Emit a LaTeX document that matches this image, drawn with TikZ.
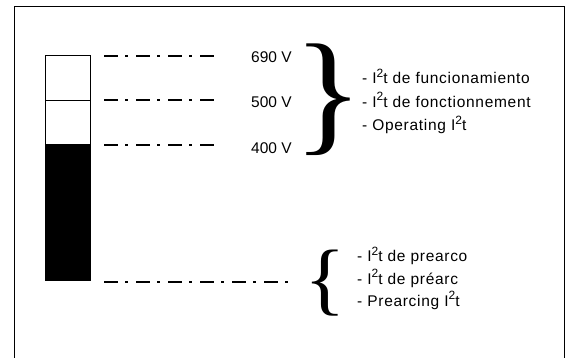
\documentclass[tikz,border=0pt]{standalone}
\usepackage{fontspec}
\setmainfont{Liberation Sans}[LetterSpace=4.5]
\newfontfamily\voltfont{Liberation Sans}
\newfontfamily\bracefont{Liberation Serif}
\newcommand{\supii}{\raisebox{0.42em}{\fontsize{12}{12}\selectfont 2}}
\begin{document}
\begin{tikzpicture}[x=1pt,y=-1pt,
  ddline/.style={line width=1.8pt,dash pattern=on 14pt off 7pt on 3pt off 8pt},
  lbl/.style={font=\voltfont\fontsize{15.5}{17}\selectfont,inner sep=0pt,anchor=base west},
  txt/.style={font=\fontsize{15.5}{17}\selectfont,inner sep=0pt,anchor=base west}]
\useasboundingbox (0,0) rectangle (568,358);
% frame
\draw[line width=0.8pt] (14,360) -- (14,6.5) -- (564,6.5) -- (564,360);
% bar
\node[draw,line width=0.8pt,minimum width=45pt,minimum height=45pt,inner sep=0pt] (b1) at (67.5,77.5) {};
\node[draw,line width=0.8pt,minimum width=45pt,minimum height=44pt,inner sep=0pt] (b2) at (67.5,122) {};
\node[draw,fill=black,line width=0.8pt,minimum width=45pt,minimum height=136pt,inner sep=0pt] (b3) at (67.5,212) {};
% dash-dot lines
\coordinate (l1a) at (104,56); \coordinate (l1b) at (217,56);
\coordinate (l2a) at (104,100); \coordinate (l2b) at (217,100);
\coordinate (l3a) at (104,145); \coordinate (l3b) at (217,145);
\coordinate (l4a) at (104,282); \coordinate (l4b) at (290,282);
\draw[ddline] (l1a) -- (l1b);
\draw[ddline] (l2a) -- (l2b);
\draw[ddline] (l3a) -- (l3b);
\draw[ddline] (l4a) -- (l4b);
% voltages
\node[lbl] (v690) at (251,63) {690 V};
\node[lbl] (v500) at (251,108) {500 V};
\node[lbl] (v400) at (251,154) {400 V};
% braces
\node[inner sep=0pt] (br1) at (328,100) {\scalebox{1.08}[1.0]{\bracefont\fontsize{135}{135}\selectfont\}}};
\node[inner sep=0pt] (br2) at (325,283) {\scalebox{1.08}[1.0]{\bracefont\fontsize{80}{80}\selectfont\{}};
% texts
\node[txt] (t1) at (362,84) {- I\supii t de funcionamiento};
\node[txt] (t2) at (362,107.5) {- I\supii t de fonctionnement};
\node[txt] (t3) at (362,131) {- Operating I\supii t};
\node[txt] (t4) at (357,262) {- I\supii t de prearco};
\node[txt] (t5) at (357,284.5) {- I\supii t de préarc};
\node[txt] (t6) at (357,306) {- Prearcing I\supii t};
\end{tikzpicture}
\end{document}
